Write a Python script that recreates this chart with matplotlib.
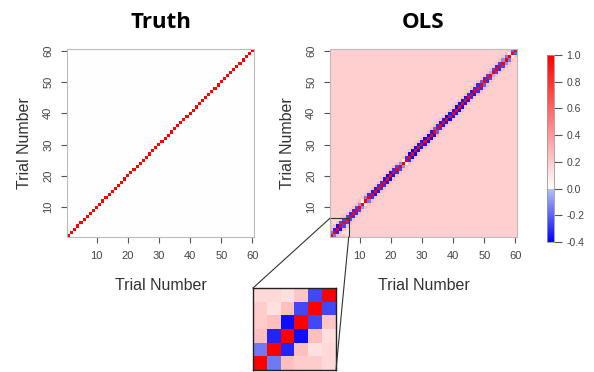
import numpy as np
import matplotlib
matplotlib.use("Agg")
import matplotlib.pyplot as plt
from matplotlib.colors import LinearSegmentedColormap, Normalize
from matplotlib.patches import Rectangle, ConnectionPatch

plt.rcParams['font.family'] = ['Liberation Sans', 'DejaVu Sans']
plt.rcParams['axes.unicode_minus'] = False

n_trials = 60
ticks = [10, 20, 30, 40, 50, 60]
cbar_ticks = [1.0, 0.8, 0.6, 0.4, 0.2, 0.0, -0.2, -0.4]

# correlation between neighbouring trials (t, t+1) in the OLS estimates
lag1 = [-0.15, -0.32, -0.37, -0.25, -0.25, -0.25, -0.30, -0.30, -0.25, -0.10,
        0.05, -0.15, -0.30, -0.35, -0.35, -0.30, -0.30, -0.35, -0.38, -0.35,
        -0.30, -0.25, -0.10, 0.05, -0.30, -0.38, -0.40, -0.38, -0.35, -0.35,
        -0.38, -0.38, -0.35, -0.20, -0.30, -0.35, -0.35, -0.38, -0.35, -0.35,
        -0.38, -0.38, -0.35, -0.35, -0.30, -0.35, -0.30, -0.30, -0.20, -0.30,
        -0.25, -0.05, -0.25, -0.30, -0.25, -0.10, -0.15, 0.05, -0.20]
lag2 = 0.25
background = 0.19

# first six trials (shown enlarged)
corner = [[1.00, -0.15, 0.25, 0.20, 0.20, 0.15],
          [-0.15, 1.00, -0.32, 0.25, 0.12, 0.15],
          [0.25, -0.32, 1.00, -0.37, 0.25, 0.13],
          [0.20, 0.25, -0.37, 1.00, -0.25, 0.22],
          [0.20, 0.12, 0.25, -0.25, 1.00, -0.25],
          [0.15, 0.15, 0.13, 0.22, -0.25, 1.00]]

truth = np.eye(n_trials)
ols = np.full((n_trials, n_trials), background)
ols += np.diag(np.full(n_trials - 2, lag2 - background), 2)
ols += np.diag(np.full(n_trials - 2, lag2 - background), -2)
ols += np.diag(np.array(lag1) - background, 1)
ols += np.diag(np.array(lag1) - background, -1)
np.fill_diagonal(ols, 1.0)
ols[:6, :6] = np.array(corner)

vmin, vmax = -0.4, 1.0
z = (0 - vmin) / (vmax - vmin)
cmap = LinearSegmentedColormap.from_list(
    "corr", [(0, "#0000ff"), (z - 0.001, "#b4c4ee"), (z, "#ffffff"), (1, "#ff0000")])
norm = Normalize(vmin, vmax)

W, H = 594, 372
fig = plt.figure(figsize=(W / 100, H / 100), dpi=100)


def px(x0, y0, x1, y1):
    return [x0 / W, 1 - y1 / H, (x1 - x0) / W, (y1 - y0) / H]


ext = (0.5, n_trials + 0.5, 0.5, n_trials + 0.5)


def style(ax, title):
    ax.set_xticks(ticks)
    ax.set_yticks(ticks)
    ax.tick_params(length=4, width=0.8, color="#555555", labelcolor="#444444",
                   labelsize=8, pad=6)
    for lab in ax.get_yticklabels():
        lab.set_rotation(90)
        lab.set_va("center")
    for s in ax.spines.values():
        s.set_color("#bbbbbb")
        s.set_linewidth(0.8)
    ax.set_xlabel("Trial Number", fontsize=11.5, color="#333333", labelpad=12)
    ax.set_ylabel("Trial Number", fontsize=11.5, color="#333333", labelpad=8)
    ax.set_title(title, fontsize=16, fontweight="bold", family="Open Sans", pad=15)


ax1 = fig.add_axes(px(67, 49, 254, 237))
ax1.imshow(truth, cmap=cmap, norm=norm, origin="lower", extent=ext,
           aspect="auto", interpolation="nearest")
style(ax1, "Truth")

ax2 = fig.add_axes(px(330, 49, 517, 237))
im = ax2.imshow(ols, cmap=cmap, norm=norm, origin="lower", extent=ext,
                aspect="auto", interpolation="nearest")
style(ax2, "OLS")
ax2.add_patch(Rectangle((0.5, 0.5), 6, 6, fill=False, ec="#333333", lw=0.8))

cax = fig.add_axes(px(547, 55, 554, 242))
cb = fig.colorbar(im, cax=cax, ticks=cbar_ticks, format="%.1f")
cb.outline.set_edgecolor("#999999")
cb.outline.set_linewidth(0.6)
cax.tick_params(length=6, width=0.8, color="#555555", labelcolor="#444444",
                labelsize=7.5, pad=3)

axins = fig.add_axes(px(253, 288, 336, 370))
axins.imshow(ols[:6, :6], cmap=cmap, norm=norm, origin="lower",
             extent=(0.5, 6.5, 0.5, 6.5), aspect="auto", interpolation="nearest")
axins.set_xticks([])
axins.set_yticks([])
for s in axins.spines.values():
    s.set_color("#222222")
    s.set_linewidth(1.0)

for xa, xb in [((0.5, 6.5), (0, 1)), ((6.5, 0.5), (1, 0))]:
    con = ConnectionPatch(xyA=xa, coordsA=ax2.transData, xyB=xb,
                          coordsB=axins.transAxes, color="#333333", lw=0.8)
    fig.add_artist(con)

fig.savefig("out.png", dpi=100)
